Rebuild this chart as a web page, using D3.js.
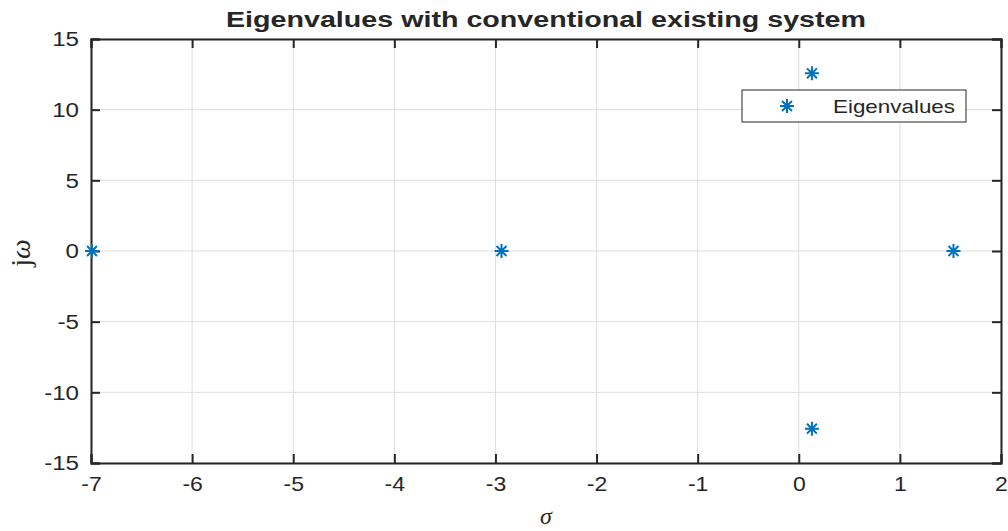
<!DOCTYPE html>
<html>
<head>
<meta charset="utf-8">
<script src="https://cdn.jsdelivr.net/npm/d3@7"></script>
<style>
  body { margin: 0; background: #fff; }
  text { font-family: "Liberation Sans", Arial, sans-serif; fill: #262626; }
</style>
</head>
<body>
<div id="chart"></div>
<script>
var sigma = [-6.99, -2.94, 0.13, 0.13, 1.53];
var omega = [0, 0, 12.57, -12.57, 0];
var xTicks = [-7, -6, -5, -4, -3, -2, -1, 0, 1, 2];
var yTicks = [-15, -10, -5, 0, 5, 10, 15];

var W = 1008, H = 531;
var margin = {top: 39, right: 7, bottom: 68, left: 91};
var width = W - margin.left - margin.right,
    height = H - margin.top - margin.bottom;
var blue = "#0072BD", axisCol = "#262626";
var sx = 1.15; // fonts in the picture are a bit wide

var x = d3.scaleLinear().domain([-7, 2]).range([0, width]);
var y = d3.scaleLinear().domain([-15, 15]).range([height, 0]);

var svg = d3.select("#chart").append("svg")
    .attr("width", W).attr("height", H);
var g = svg.append("g")
    .attr("transform", "translate(" + margin.left + "," + margin.top + ")");

// grid
g.selectAll(".gx").data(xTicks).enter().append("line")
    .attr("x1", d => x(d)).attr("x2", d => x(d))
    .attr("y1", 0).attr("y2", height)
    .attr("stroke", "#dedede").attr("stroke-width", 1);
g.selectAll(".gy").data(yTicks).enter().append("line")
    .attr("y1", d => y(d)).attr("y2", d => y(d))
    .attr("x1", 0).attr("x2", width)
    .attr("stroke", "#dedede").attr("stroke-width", 1);

// axes (ticks inside, like matlab), plain hyphen for minus
var fmt = function(d) { return String(d); };
var xAxis = d3.axisBottom(x).tickValues(xTicks).tickSize(-9).tickPadding(14).tickFormat(fmt);
var yAxis = d3.axisLeft(y).tickValues(yTicks).tickSize(-9).tickPadding(12).tickFormat(fmt);
var xa = g.append("g").attr("transform", "translate(0," + height + ")").call(xAxis);
var ya = g.append("g").call(yAxis);
var xTop = g.append("g").call(d3.axisTop(x).tickValues(xTicks).tickSize(-9).tickFormat(""));
var yRight = g.append("g").attr("transform", "translate(" + width + ",0)")
    .call(d3.axisRight(y).tickValues(yTicks).tickSize(-9).tickFormat(""));

[xa, ya, xTop, yRight].forEach(function(a) {
  a.select(".domain").attr("stroke", axisCol).attr("stroke-width", 2);
  a.selectAll(".tick line").attr("stroke", axisCol).attr("stroke-width", 2);
});
xa.selectAll(".tick text").attr("font-size", 20).attr("fill", axisCol)
    .style("font-family", "Liberation Sans, Arial, sans-serif")
    .attr("dy", "0.71em")
    .attr("transform", function() { var t = d3.select(this); return "translate(0," + t.attr("y") + ") scale(" + sx + ",1) translate(0," + (-t.attr("y")) + ")"; });
ya.selectAll(".tick text").attr("font-size", 21).attr("fill", axisCol)
    .style("font-family", "Liberation Sans, Arial, sans-serif")
    .attr("transform", function() { var t = d3.select(this); var xx = +t.attr("x"); return "translate(" + xx + ",0) scale(" + sx + ",1) translate(" + (-xx) + ",0)"; });

// star marker
function star(sel, cx, cy, r) {
  var a = r * 0.7071;
  var p = "M" + (cx - r) + "," + cy + "H" + (cx + r) +
          "M" + cx + "," + (cy - r) + "V" + (cy + r) +
          "M" + (cx - a) + "," + (cy - a) + "L" + (cx + a) + "," + (cy + a) +
          "M" + (cx - a) + "," + (cy + a) + "L" + (cx + a) + "," + (cy - a);
  sel.append("path").attr("d", p).attr("stroke", blue).attr("stroke-width", 2).attr("fill", "none");
}
sigma.forEach(function(s, i) { star(g, x(s), y(omega[i]), 7); });

// legend
var lg = svg.append("g");
lg.append("rect").attr("x", 742).attr("y", 90).attr("width", 224).attr("height", 32)
    .attr("fill", "#fff").attr("stroke", axisCol).attr("stroke-width", 1);
star(lg, 787, 106, 7);
lg.append("text").attr("x", 833).attr("y", 113).attr("font-size", 19)
    .attr("textLength", 122).attr("lengthAdjust", "spacingAndGlyphs")
    .text("Eigenvalues");

// title
svg.append("text").attr("x", 546).attr("y", 27).attr("text-anchor", "middle")
    .attr("font-size", 22).attr("font-weight", "bold").attr("fill", "#000")
    .attr("textLength", 640).attr("lengthAdjust", "spacingAndGlyphs")
    .text("Eigenvalues with conventional existing system");

// axis labels
svg.append("text").attr("x", 546).attr("y", 524).attr("text-anchor", "middle")
    .attr("font-size", 24).attr("font-style", "italic")
    .style("font-family", "Liberation Serif, Times New Roman, serif")
    .text("σ");
svg.append("text").attr("transform", "translate(30,253) rotate(-90)")
    .attr("text-anchor", "middle").attr("font-size", 28)
    .style("font-family", "Liberation Serif, Times New Roman, serif")
    .html('j<tspan font-style="italic">ω</tspan>');
</script>
</body>
</html>
